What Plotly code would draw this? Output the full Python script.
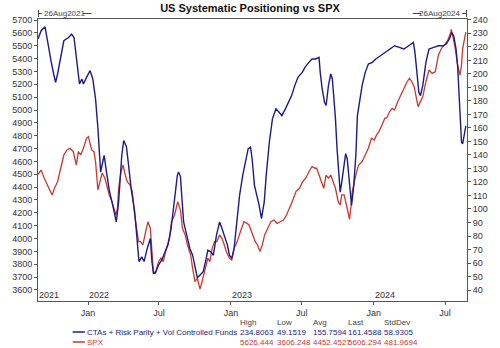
import plotly.graph_objects as go

# ---- series data -------------------------------------------------------
cta_dates = [
    "2021-08-26", "2021-09-03", "2021-09-13", "2021-09-21", "2021-09-29", "2021-10-05",
    "2021-10-10", "2021-10-15", "2021-10-23", "2021-10-31", "2021-11-12", "2021-11-20",
    "2021-11-26", "2021-12-02", "2021-12-10", "2021-12-16", "2021-12-20", "2021-12-28",
    "2022-01-06", "2022-01-13", "2022-01-20", "2022-01-26", "2022-02-02", "2022-02-09",
    "2022-02-11", "2022-02-17", "2022-02-24", "2022-03-04", "2022-03-09", "2022-03-14",
    "2022-03-20", "2022-03-28", "2022-04-02", "2022-04-09", "2022-04-13", "2022-04-21",
    "2022-04-30", "2022-05-07", "2022-05-11", "2022-05-18", "2022-05-24", "2022-06-01",
    "2022-06-09", "2022-06-13", "2022-06-17", "2022-06-23", "2022-06-30", "2022-07-08",
    "2022-07-16", "2022-07-24", "2022-08-01", "2022-08-09", "2022-08-17", "2022-08-20",
    "2022-08-25", "2022-08-27", "2022-09-02", "2022-09-10", "2022-09-18", "2022-09-25",
    "2022-10-01", "2022-10-07", "2022-10-14", "2022-10-22", "2022-10-28", "2022-11-03",
    "2022-11-10", "2022-11-17", "2022-11-25", "2022-12-03", "2022-12-09", "2022-12-15",
    "2022-12-23", "2022-12-28", "2023-01-03", "2023-01-09", "2023-01-15", "2023-01-23",
    "2023-01-31", "2023-02-08", "2023-02-14", "2023-02-20", "2023-02-24", "2023-03-02",
    "2023-03-08", "2023-03-14", "2023-03-20", "2023-03-27", "2023-04-01", "2023-04-09",
    "2023-04-17", "2023-04-26", "2023-05-04", "2023-05-11", "2023-05-20", "2023-05-28",
    "2023-06-05", "2023-06-13", "2023-06-21", "2023-07-02", "2023-07-09", "2023-07-19",
    "2023-07-27", "2023-08-05", "2023-08-14", "2023-08-17", "2023-08-22", "2023-08-28",
    "2023-09-01", "2023-09-07", "2023-09-13", "2023-09-17", "2023-09-21", "2023-09-25",
    "2023-09-29", "2023-10-03", "2023-10-07", "2023-10-11", "2023-10-15", "2023-10-21",
    "2023-10-25", "2023-10-29", "2023-11-02", "2023-11-05", "2023-11-10", "2023-11-16",
    "2023-11-20", "2023-11-26", "2023-12-02", "2023-12-10", "2023-12-18", "2023-12-28",
    "2024-01-06", "2024-01-18", "2024-01-30", "2024-02-11", "2024-02-23", "2024-03-06",
    "2024-03-18", "2024-03-30", "2024-04-11", "2024-04-15", "2024-04-21", "2024-04-25",
    "2024-04-29", "2024-05-05", "2024-05-13", "2024-05-21", "2024-06-02", "2024-06-14",
    "2024-06-26", "2024-07-04", "2024-07-12", "2024-07-18", "2024-07-23", "2024-07-29",
    "2024-08-02", "2024-08-06", "2024-08-09", "2024-08-12", "2024-08-15", "2024-08-19",
    "2024-08-23",
]
cta_values = [
    225.8, 231.9, 234.8063, 220.8, 208.5, 199.9,
    193.7, 199.9, 213.4, 224.5, 226.9, 229.4,
    226.9, 212.2, 192.5, 196.2, 192.5, 197.4,
    202.4, 196.2, 181.5, 160.0, 127.3, 137.0,
    139.6, 127.3, 114.0, 104.0, 97.0, 90.4,
    105.2, 139.6, 150.7, 146.0, 136.0, 115.1,
    97.8, 75.7, 61.1, 64.6, 61.1, 70.8,
    78.2, 61.1, 52.4, 53.6, 58.6, 62.2,
    68.3, 73.3, 85.5, 105.2, 124.9, 127.3,
    124.0, 115.1, 90.4, 80.6, 70.8, 65.8,
    56.0, 49.1519, 51.1, 53.6, 61.1, 69.5,
    68.3, 65.8, 80.6, 90.4, 85.5, 80.6,
    73.3, 65.8, 63.4, 70.8, 88.0, 110.1,
    124.9, 137.2, 144.6, 145.8, 137.2, 117.5,
    110.1, 102.7, 92.9, 105.2, 124.9, 149.4,
    166.7, 174.1, 171.6, 169.1, 174.1, 179.0,
    183.9, 191.3, 197.4, 201.1, 204.8, 208.5,
    211.0, 211.0, 212.2, 201.1, 188.9, 179.0,
    176.6, 191.3, 199.9, 196.2, 184.0, 166.7,
    144.6, 129.8, 112.5, 119.9, 129.8, 140.9,
    137.2, 124.9, 110.1, 102.7, 115.1, 139.6,
    169.1, 179.0, 191.3, 201.1, 207.3, 208.5,
    211.0, 213.4, 215.9, 218.4, 220.8, 219.6,
    218.4, 220.8, 223.3, 215.9, 198.7, 186.3,
    183.9, 191.3, 208.5, 218.4, 219.6, 220.8,
    220.8, 222.1, 225.8, 230.6, 228.2, 218.4,
    206.0, 183.9, 159.3, 149.4, 148.3, 154.4,
    161.4588,
]

spx_dates = [
    "2021-08-26", "2021-09-03", "2021-09-11", "2021-09-19", "2021-09-25", "2021-10-01",
    "2021-10-07", "2021-10-15", "2021-10-23", "2021-10-31", "2021-11-08", "2021-11-16",
    "2021-11-24", "2021-12-02", "2021-12-07", "2021-12-13", "2021-12-20", "2021-12-28",
    "2022-01-02", "2022-01-10", "2022-01-16", "2022-01-20", "2022-01-26", "2022-02-01",
    "2022-02-06", "2022-02-13", "2022-02-20", "2022-02-24", "2022-03-03", "2022-03-09",
    "2022-03-13", "2022-03-17", "2022-03-20", "2022-03-26", "2022-03-31", "2022-04-06",
    "2022-04-11", "2022-04-18", "2022-04-24", "2022-04-30", "2022-05-05", "2022-05-10",
    "2022-05-15", "2022-05-21", "2022-05-28", "2022-06-03", "2022-06-09", "2022-06-13",
    "2022-06-17", "2022-06-22", "2022-06-30", "2022-07-06", "2022-07-12", "2022-07-20",
    "2022-07-28", "2022-08-02", "2022-08-10", "2022-08-18", "2022-08-25", "2022-08-30",
    "2022-09-06", "2022-09-12", "2022-09-20", "2022-09-25", "2022-10-01", "2022-10-07",
    "2022-10-14", "2022-10-19", "2022-10-28", "2022-11-03", "2022-11-08", "2022-11-14",
    "2022-11-20", "2022-11-26", "2022-12-03", "2022-12-09", "2022-12-15", "2022-12-20",
    "2022-12-28", "2023-01-03", "2023-01-09", "2023-01-17", "2023-01-25", "2023-02-03",
    "2023-02-11", "2023-02-16", "2023-02-24", "2023-03-04", "2023-03-10", "2023-03-16",
    "2023-03-22", "2023-03-28", "2023-04-05", "2023-04-13", "2023-04-21", "2023-04-29",
    "2023-05-07", "2023-05-15", "2023-05-23", "2023-05-31", "2023-06-08", "2023-06-16",
    "2023-06-25", "2023-07-03", "2023-07-11", "2023-07-19", "2023-07-27", "2023-08-04",
    "2023-08-08", "2023-08-14", "2023-08-20", "2023-08-26", "2023-09-01", "2023-09-07",
    "2023-09-13", "2023-09-19", "2023-09-25", "2023-10-02", "2023-10-07", "2023-10-11",
    "2023-10-17", "2023-10-23", "2023-10-27", "2023-10-31", "2023-11-04", "2023-11-07",
    "2023-11-16", "2023-11-23", "2023-12-02", "2023-12-10", "2023-12-18", "2023-12-26",
    "2024-01-02", "2024-01-08", "2024-01-14", "2024-01-22", "2024-01-29", "2024-02-03",
    "2024-02-11", "2024-02-17", "2024-02-23", "2024-03-02", "2024-03-10", "2024-03-18",
    "2024-03-26", "2024-04-01", "2024-04-07", "2024-04-13", "2024-04-19", "2024-04-23",
    "2024-04-29", "2024-05-05", "2024-05-13", "2024-05-21", "2024-05-29", "2024-06-06",
    "2024-06-14", "2024-06-22", "2024-06-30", "2024-07-08", "2024-07-15", "2024-07-17",
    "2024-07-20", "2024-07-27", "2024-08-02", "2024-08-08", "2024-08-12", "2024-08-15",
    "2024-08-23",
]
spx_values = [
    4500, 4533, 4469, 4417, 4391, 4339,
    4391, 4442, 4547, 4650, 4689, 4702,
    4676, 4572, 4676, 4650, 4702, 4780,
    4793, 4689, 4676, 4598, 4378, 4442,
    4510, 4469, 4391, 4339, 4287, 4235,
    4183, 4235, 4391, 4520, 4572, 4494,
    4442, 4417, 4365, 4183, 4080, 3976,
    3976, 3950, 4053, 4131, 4080, 3924,
    3730, 3730, 3820, 3847, 3820, 3924,
    4002, 4131, 4183, 4287, 4220, 4080,
    4028, 3950, 3872, 3769, 3665, 3691,
    3606.248, 3665, 3769, 3847, 3820, 3924,
    3976, 3976, 4028, 4002, 3950, 3898,
    3847, 3833, 3924, 3976, 4053, 4131,
    4118, 4106, 4041, 3976, 3950, 3898,
    3950, 4028, 4080, 4131, 4144, 4118,
    4131, 4144, 4183, 4235, 4300, 4365,
    4391, 4442, 4469, 4520, 4559, 4547,
    4547, 4494, 4442, 4391, 4494, 4469,
    4494, 4442, 4391, 4287, 4261, 4339,
    4339, 4261, 4209, 4150, 4261, 4365,
    4494, 4572, 4598, 4650, 4702, 4780,
    4767, 4806, 4832, 4883, 4935, 4940,
    4990, 5013, 5000, 5065, 5117, 5169,
    5220, 5246, 5220, 5181, 5091, 5026,
    5065, 5104, 5220, 5311, 5285, 5298,
    5428, 5480, 5506, 5544, 5597, 5626.444,
    5584, 5480, 5350, 5272, 5350, 5480,
    5606.294,
]

# ---- axis / label text -------------------------------------------------
month_ticks = ["2022-01-01", "2022-07-01", "2023-01-01", "2023-07-01", "2024-01-01", "2024-07-01"]
month_labels = ["Jan", "Jul", "Jan", "Jul", "Jan", "Jul"]
year_dates = ["2021-08-26", "2022-01-01", "2023-01-01", "2024-01-01"]
year_labels = ["2021", "2022", "2023", "2024"]
start_label = "26Aug2021"
end_label = "26Aug2024"

stat_headers = ["High", "Low", "Avg", "Last", "StdDev"]
cta_stats = ["234.8063", "49.1519", "155.7594", "161.4588", "58.9305"]
spx_stats = ["5626.444", "3606.248", "4452.4527", "5606.294", "481.9694"]
cta_name = "CTAs + Risk Parity + Vol Controlled Funds"
spx_name = "SPX"

BLUE = "#1c1c86"
RED = "#c8392f"
AXIS = "#555555"
FONT = "Liberation Sans, Arial, sans-serif"

W, H = 500, 348
L, R, T, B = 23, 19, 19, 47
PW, PH = W - L - R, H - T - B


def px(x):
    return (x - L) / PW


def py(y):
    return (H - B - y) / PH


fig = go.Figure()
fig.add_trace(go.Scatter(x=cta_dates, y=cta_values, mode="lines", name=cta_name,
                         line=dict(color=BLUE, width=1.4), yaxis="y2"))
fig.add_trace(go.Scatter(x=spx_dates, y=spx_values, mode="lines", name=spx_name,
                         line=dict(color=RED, width=1.3), yaxis="y"))

ann = []
shapes = []

# year markers sitting just above the time axis
for d, t in zip(year_dates, year_labels):
    ann.append(dict(x=d, xref="x", y=0, yref="paper", text=t, showarrow=False,
                    xanchor="left", yanchor="bottom", xshift=-1, yshift=-1,
                    font=dict(family=FONT, size=9, color="#333333")))

# start / end markers above the plot
txt = dict(family=FONT, size=8, color="#444444")
ann.append(dict(x=px(28), xref="paper", y=py(13), yref="paper", text=start_label,
                showarrow=False, xanchor="left", yanchor="middle", font=txt, borderpad=0))
ann.append(dict(x=px(475), xref="paper", y=py(13), yref="paper", text=end_label,
                showarrow=False, xanchor="right", yanchor="middle", font=txt, borderpad=0))
seg = dict(color="#444444", width=1)
for x0, y0, x1, y1 in [(23.5, 10, 23.5, 17), (23.5, 13.5, 27, 13.5), (71, 13.5, 80, 13.5),
                       (423, 13.5, 432, 13.5), (476, 13.5, 480.5, 13.5), (480.5, 10, 480.5, 17)]:
    shapes.append(dict(type="line", xref="paper", yref="paper",
                       x0=px(x0), y0=py(y0), x1=px(x1), y1=py(y1), line=seg))

# statistics table beneath the chart
cols = [238, 276.7, 315, 353, 391.7]
for x, h in zip(cols, stat_headers):
    ann.append(dict(x=px(x), xref="paper", y=py(322), yref="paper", text=h, showarrow=False,
                    xanchor="left", yanchor="middle", borderpad=0,
                    font=dict(family=FONT, size=8, color="#444444")))
for row_y, color, name, stats in [(332, BLUE, cta_name, cta_stats), (342, RED, spx_name, spx_stats)]:
    shapes.append(dict(type="line", xref="paper", yref="paper", x0=px(60), x1=px(73),
                       y0=py(row_y), y1=py(row_y), line=dict(color=color, width=1.5)))
    ann.append(dict(x=px(74), xref="paper", y=py(row_y), yref="paper", text=name, showarrow=False,
                    xanchor="left", yanchor="middle", borderpad=0,
                    font=dict(family=FONT, size=8, color=color)))
    for x, s in zip(cols, stats):
        ann.append(dict(x=px(x), xref="paper", y=py(row_y), yref="paper", text=s, showarrow=False,
                        xanchor="left", yanchor="middle", borderpad=0,
                        font=dict(family=FONT, size=8, color=color)))

tickfont = dict(family=FONT, size=9, color="#333333")
fig.update_layout(
    width=W, height=H,
    margin=dict(l=L, r=R, t=T, b=B, pad=0),
    paper_bgcolor="white", plot_bgcolor="white",
    showlegend=False,
    title=dict(text="<b>US Systematic Positioning vs SPX</b>", x=0.5, xanchor="center",
               y=1 - 8 / H, yanchor="middle",
               font=dict(family=FONT, size=11, color="#111111")),
    xaxis=dict(type="date", range=["2021-08-26", "2024-08-26"],
               tickvals=month_ticks, ticktext=month_labels,
               ticks="outside", ticklen=3, tickcolor=AXIS, tickfont=tickfont,
               showgrid=False, zeroline=False,
               showline=True, linecolor=AXIS, linewidth=1, mirror=True),
    yaxis=dict(range=[3514, 5708], tickmode="linear", tick0=3600, dtick=100,
               ticks="outside", ticklen=3,
               tickcolor=AXIS, tickfont=tickfont, showgrid=False, zeroline=False,
               showline=True, linecolor=AXIS, linewidth=1),
    yaxis2=dict(range=[31.9, 240.6], tickmode="linear", tick0=40, dtick=10,
                overlaying="y", side="right",
                ticks="outside", ticklen=3, tickcolor=AXIS, tickfont=tickfont,
                showgrid=False, zeroline=False, showline=True, linecolor=AXIS, linewidth=1),
    annotations=ann,
    shapes=shapes,
)

fig.write_html("out.html")
